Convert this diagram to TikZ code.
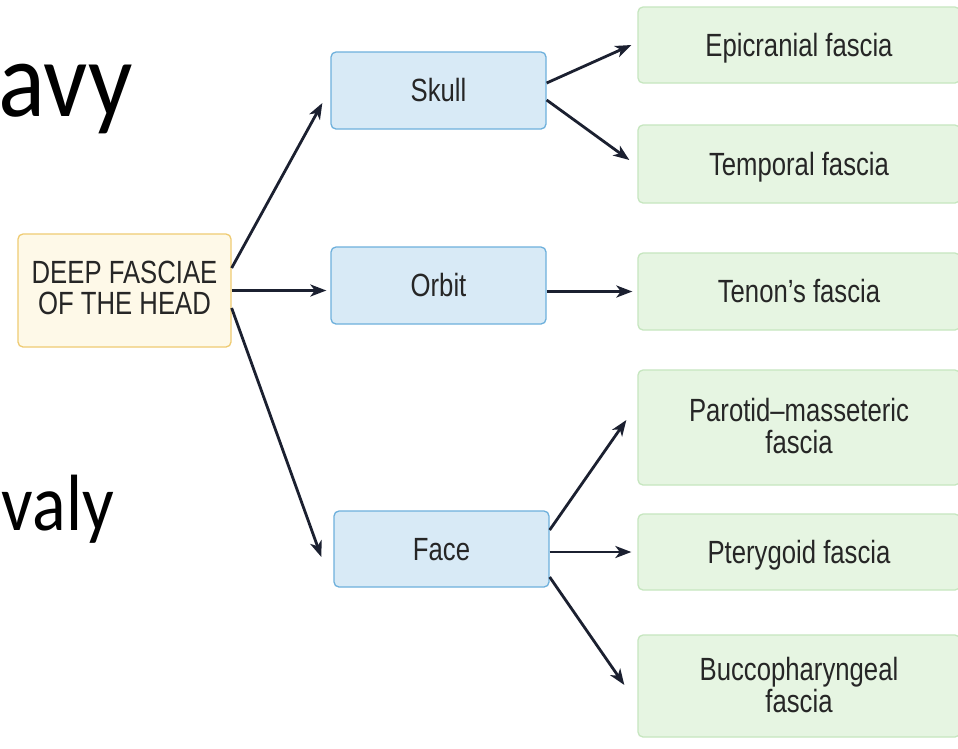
\documentclass[tikz,border=0pt]{standalone}
\usepackage{graphicx}
\usepackage{fontspec}
\setmainfont{Liberation Sans}
\newfontfamily\slidefont{Carlito}
\usetikzlibrary{arrows.meta}
\definecolor{txt}{HTML}{262626}
\definecolor{arrowc}{HTML}{1B2030}
\definecolor{deepfill}{HTML}{FEF9E8}
\definecolor{deepdraw}{HTML}{EFCB72}
\definecolor{bluefill}{HTML}{D8EAF6}
\definecolor{bluedraw}{HTML}{6EB0DC}
\definecolor{greenfill}{HTML}{E6F5E2}
\definecolor{greendraw}{HTML}{C6E6BF}
% #1 = downward shift that centres the cap-height block, #2 = text
\newcommand{\bxt}[2]{\raisebox{-#1}[0pt][0pt]{\scalebox{1}[1.25]{\begin{tabular}[b]{@{}c@{}}#2\end{tabular}}}}
\begin{document}
\begin{tikzpicture}[x=1pt,y=-1pt,
  box/.style={rounded corners=5pt, line width=1.3pt, inner sep=0pt,
    font=\fontsize{25.7}{23.2}\selectfont, text=txt},
  deepbox/.style={box, draw=deepdraw, fill=deepfill},
  bluebox/.style={box, draw=bluedraw, fill=bluefill, minimum width=215pt},
  greenbox/.style={box, draw=greendraw, fill=greenfill, minimum width=322pt},
  arr/.style={draw=arrowc, line width=2.8pt, -{Stealth[length=16pt,width=12pt,inset=4.5pt]}},
  slidetext/.style={anchor=base east, inner sep=0pt, text=black}]
\useasboundingbox (0,0) rectangle (958,748);
\fill[white] (0,0) rectangle (958,748);

% slide text fragments
\node[slidetext, font=\slidefont\fontsize{98}{98}\selectfont] (t1) at (133,116) {\scalebox{1}[1.1]{avy}};
\node[slidetext, font=\slidefont\fontsize{70}{70}\selectfont] (t2) at (114,530) {\scalebox{1}[1.14]{valy}};

% boxes
\node[deepbox, minimum width=213pt, minimum height=113pt] (deep) at (124.5,290.5) {\bxt{24pt}{DEEP FASCIAE\\OF THE HEAD}};
\node[bluebox, minimum height=77pt] (skull) at (438.5,90.5) {\bxt{11pt}{Skull}};
\node[bluebox, minimum height=77pt] (orbit) at (438.5,285.5) {\bxt{11pt}{Orbit}};
\node[bluebox, minimum height=76pt] (face) at (441.5,549) {\bxt{11pt}{Face}};

\node[greenbox, minimum height=76pt] (epi) at (799,45) {\bxt{11pt}{Epicranial fascia}};
\node[greenbox, minimum height=78pt] (temp) at (799,164) {\bxt{11pt}{Temporal fascia}};
\node[greenbox, minimum height=77pt] (tenon) at (799,291.5) {\bxt{11pt}{Tenon's fascia}};
\node[greenbox, minimum height=115pt] (parotid) at (799,427.5) {\bxt{26pt}{Parotid--masseteric\\fascia}};
\node[greenbox, minimum height=76pt] (ptery) at (799,552) {\bxt{11pt}{Pterygoid fascia}};
\node[greenbox, minimum height=102pt] (bucco) at (799,686) {\bxt{26pt}{Buccopharyngeal\\fascia}};

% connectors
\draw[arr] ([yshift=22.5pt]deep.east) -- ([xshift=-8pt,yshift=-12.5pt]skull.west);
\draw[arr] (deep.east) -- ([xshift=-4pt]deep.east -| orbit.west);
\draw[arr] ([yshift=-17.5pt]deep.east) -- ([xshift=-12pt,yshift=-8pt]face.west);

\draw[arr] ([yshift=7.5pt]skull.east) -- ([xshift=-6pt]epi.west);
\draw[arr] ([yshift=-9.5pt]skull.east) -- ([xshift=-8pt,yshift=4pt]temp.west);

\draw[arr] (orbit.east |- tenon.west) -- ([xshift=-5pt]tenon.west);

\draw[arr] ([yshift=19pt]face.east) -- ([xshift=-11pt,yshift=7.5pt]parotid.west);
\draw[arr] (face.east |- ptery.west) -- ([xshift=-6pt]ptery.west);
\draw[arr] ([yshift=-28pt]face.east) -- ([xshift=-13pt,yshift=1pt]bucco.west);
\end{tikzpicture}
\end{document}
